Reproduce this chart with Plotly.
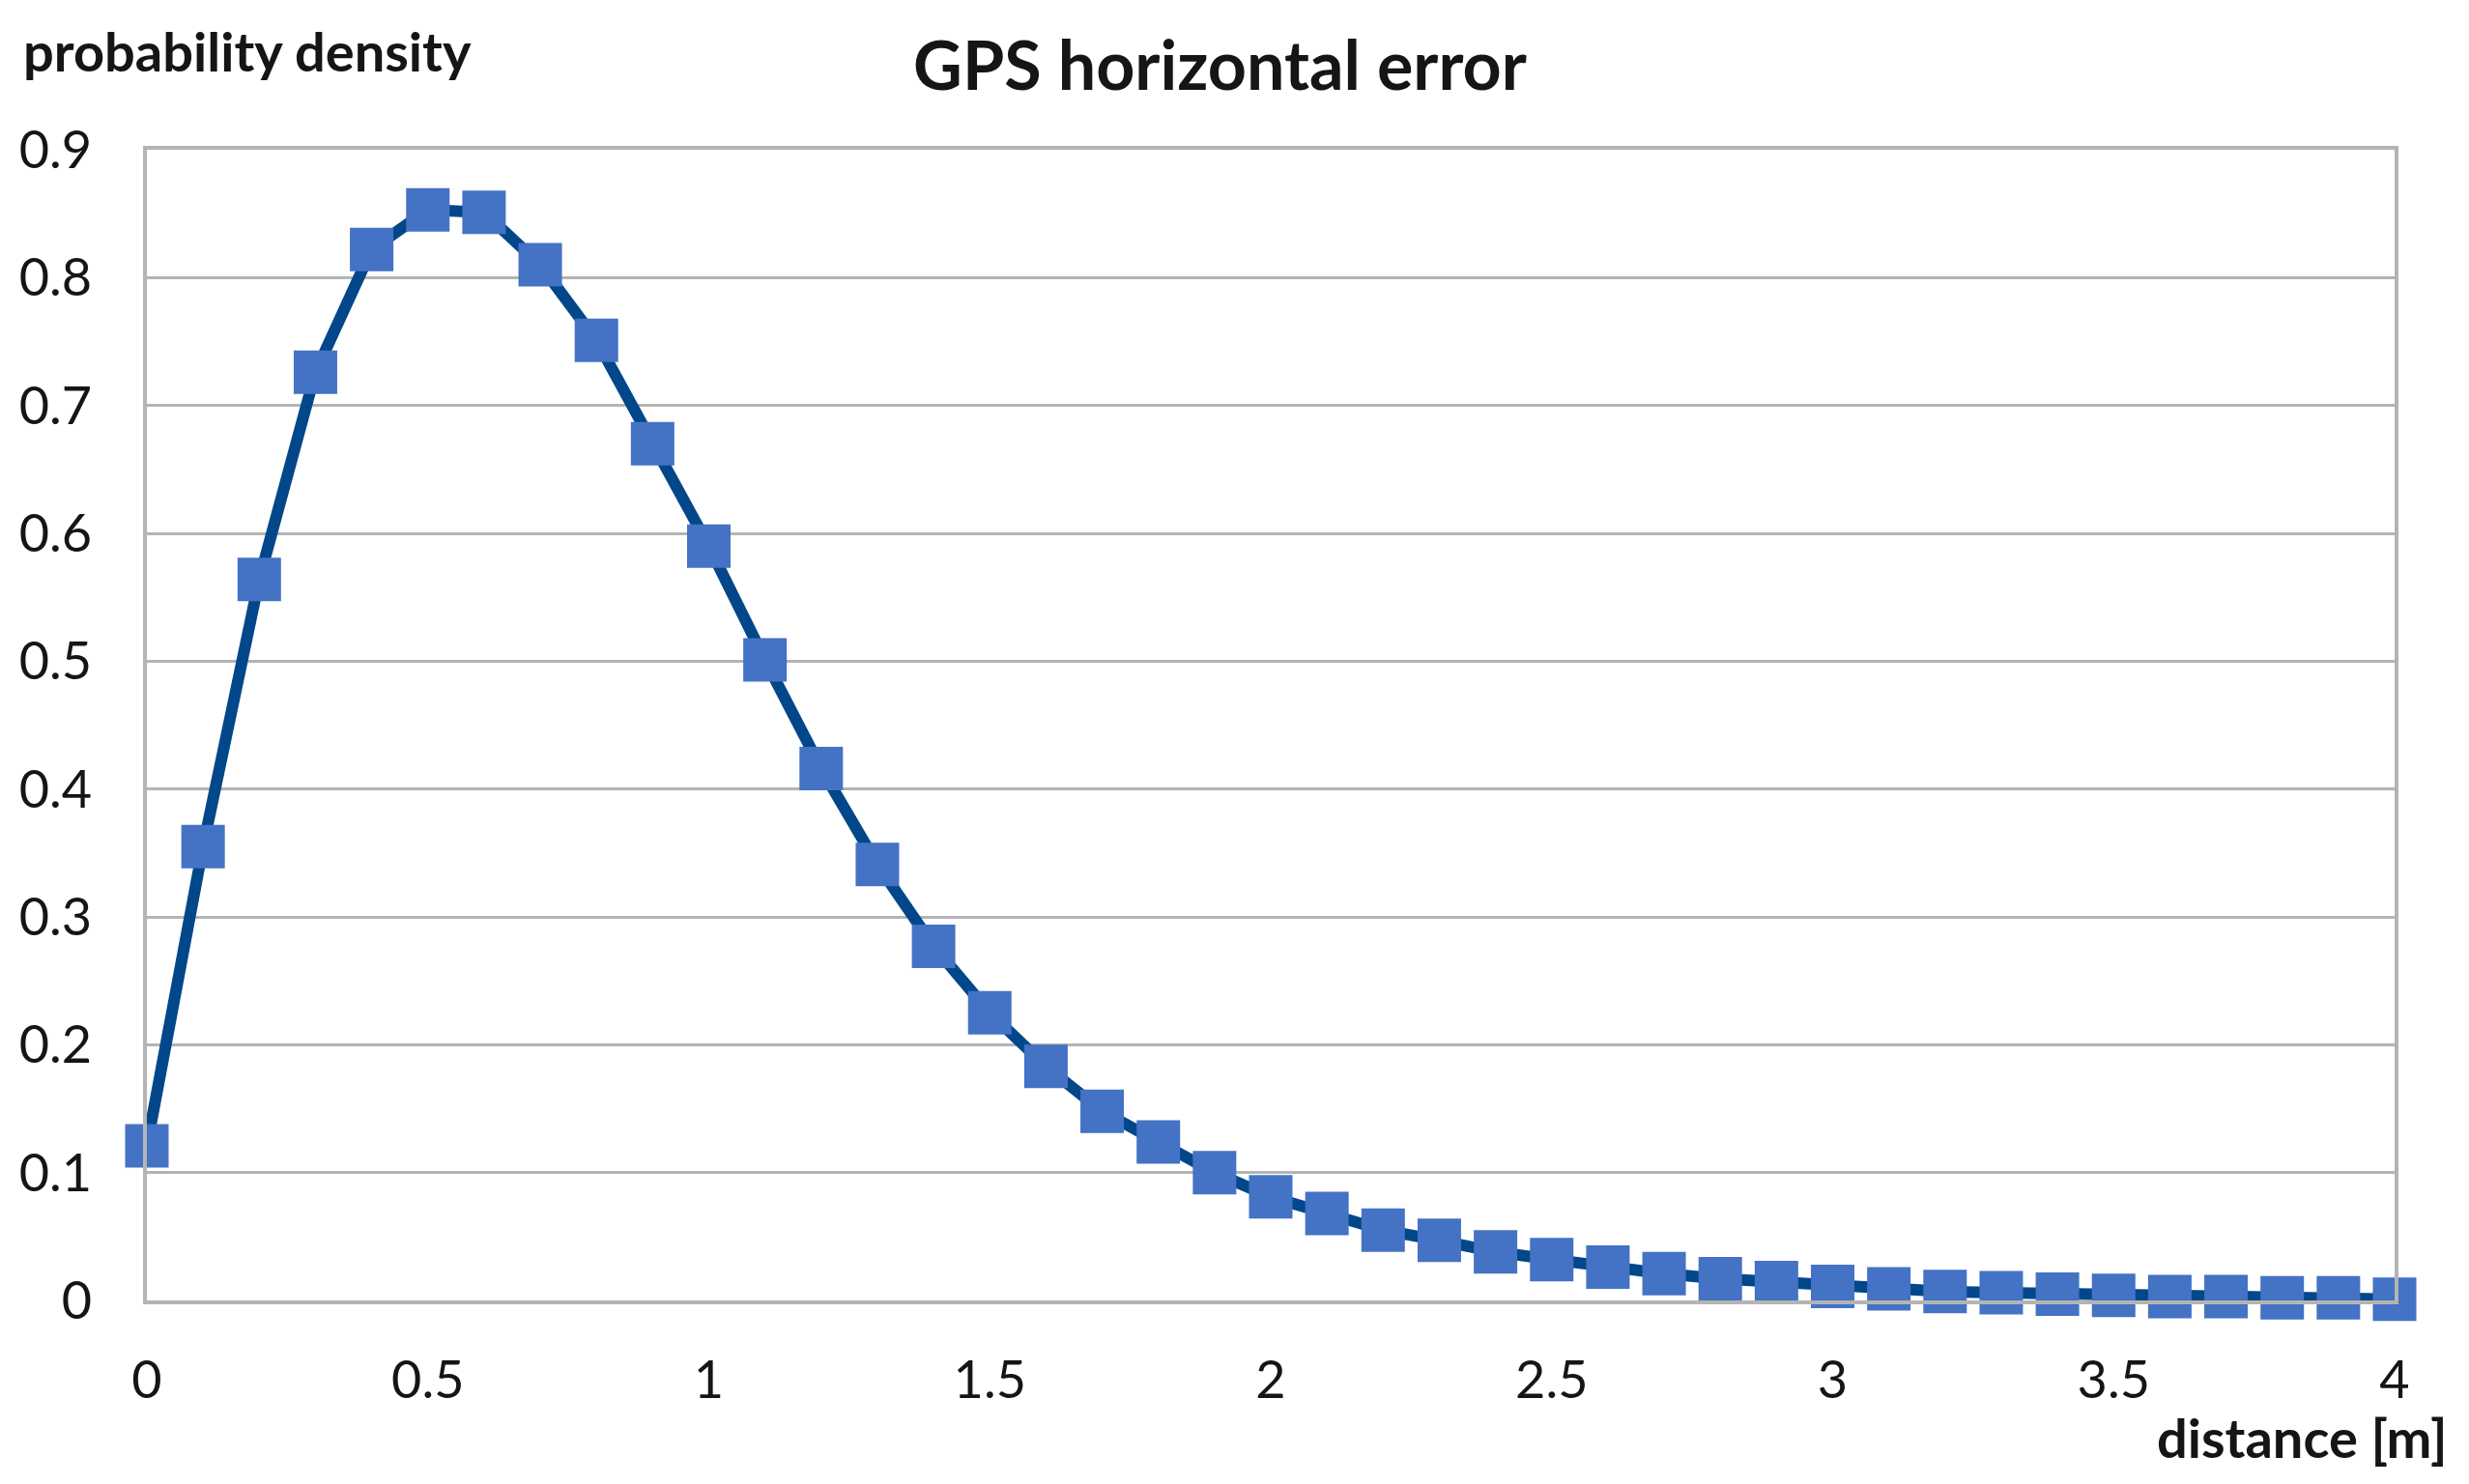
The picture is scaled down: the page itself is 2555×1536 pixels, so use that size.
import plotly.graph_objects as go

distance = [round(i * 0.1, 1) for i in range(41)]
density = [0.121, 0.355, 0.564, 0.726, 0.822, 0.853, 0.851, 0.810, 0.751, 0.670,
           0.590, 0.501, 0.416, 0.341, 0.277, 0.225, 0.183, 0.148, 0.124, 0.100,
           0.081, 0.068, 0.055, 0.047, 0.038, 0.032, 0.026, 0.021, 0.017, 0.014,
           0.011, 0.009, 0.007, 0.006, 0.005, 0.004, 0.003, 0.003, 0.002, 0.002,
           0.001]
x_ticks = [0, 0.5, 1, 1.5, 2, 2.5, 3, 3.5, 4]
x_tick_labels = ["0", "0.5", "1", "1.5", "2", "2.5", "3", "3.5", "4"]
y_ticks = [0, 0.1, 0.2, 0.3, 0.4, 0.5, 0.6, 0.7, 0.8, 0.9]
y_tick_labels = ["0", "0.1", "0.2", "0.3", "0.4", "0.5", "0.6", "0.7", "0.8", "0.9"]

FONT = "Lato"
GRID = "#B4B4B4"
TXT = "#151515"

fig = go.Figure()
fig.add_trace(go.Scatter(
    x=distance, y=density, mode="lines+markers",
    line=dict(color="#02478A", width=12),
    marker=dict(symbol="square", size=45, color="#4472C4", line=dict(width=0)),
    cliponaxis=False, showlegend=False,
))

fig.update_layout(
    width=2555, height=1536,
    paper_bgcolor="white", plot_bgcolor="white",
    margin=dict(l=142, r=85, t=147, b=198),
    title=dict(text="<b>GPS horizontal error</b>", x=0.491, xanchor="center",
               y=1 - 60 / 1536, yanchor="middle",
               font=dict(family=FONT, size=70, color=TXT)),
    font=dict(family=FONT, color=TXT),
)
fig.update_xaxes(
    range=[0, 4], tickvals=x_ticks, ticktext=x_tick_labels,
    showgrid=False, zeroline=False,
    showline=True, linecolor=GRID, linewidth=4, mirror=True,
    ticks="outside", ticklen=0, ticklabelstandoff=32,
    tickfont=dict(family=FONT, size=54, color=TXT),
)
fig.update_yaxes(
    range=[0, 0.9], tickvals=y_ticks, ticktext=y_tick_labels,
    showgrid=True, gridcolor=GRID, gridwidth=3, zeroline=False,
    showline=True, linecolor=GRID, linewidth=4, mirror=True,
    ticks="outside", ticklen=0, ticklabelstandoff=42,
    tickfont=dict(family=FONT, size=54, color=TXT),
)
fig.add_annotation(text="<b>probability density</b>", xref="paper", yref="paper",
                   x=-130 / 2328, y=1 + 103 / 1191, xanchor="left", yanchor="middle",
                   showarrow=False, font=dict(family=FONT, size=56, color=TXT))
fig.add_annotation(text="<b>distance [m]</b>", xref="paper", yref="paper",
                   x=1 + 56 / 2328, y=-141 / 1191, xanchor="right", yanchor="middle",
                   showarrow=False, font=dict(family=FONT, size=56, color=TXT))

fig.write_html("out.html")
